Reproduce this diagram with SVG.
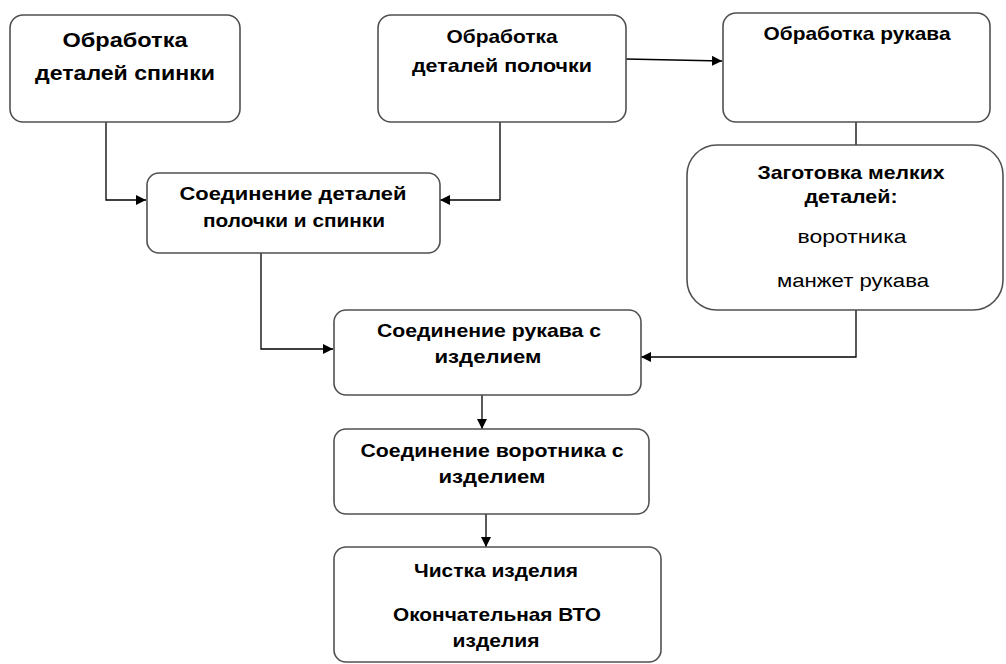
<svg xmlns="http://www.w3.org/2000/svg" width="1006" height="664" viewBox="0 0 1006 664">
  <defs>
    <marker id="arr" viewBox="0 0 10 10" refX="10" refY="5" markerWidth="10" markerHeight="10" markerUnits="userSpaceOnUse" orient="auto">
      <path d="M0,0 L10,5 L0,10 z" fill="#000"/>
    </marker>
    <style>
      .box { fill: #fff; stroke: #505050; stroke-width: 1.6; }
      .t { font-family: "Liberation Sans", Arial, sans-serif; font-weight: bold; font-size: 18.5px; fill: #000; text-anchor: middle; }
      .tb { font-size: 20px; }
      .n { font-weight: normal; }
      .c { fill: none; stroke: #000; stroke-width: 1.3; }
    </style>
  </defs>
  <rect width="1006" height="664" fill="#fff"/>

  <g id="connectors">
    <path class="c" d="M106,122 V200 H146" marker-end="url(#arr)"/>
    <path class="c" d="M500,122 V200 H440" marker-end="url(#arr)"/>
    <path class="c" d="M626,59 L722,61" marker-end="url(#arr)"/>
    <path class="c" d="M856,122 V145"/>
    <path class="c" d="M261,253 V349 H333" marker-end="url(#arr)"/>
    <path class="c" d="M856,310 V357 H641" marker-end="url(#arr)"/>
    <path class="c" d="M482,395 V429" marker-end="url(#arr)"/>
    <path class="c" d="M486,514 V547" marker-end="url(#arr)"/>
  </g>

  <g id="node-spinka">
    <rect class="box" x="10" y="15" width="230" height="107" rx="13"/>
    <text class="t tb" x="125" y="47" textLength="125" lengthAdjust="spacingAndGlyphs">Обработка</text>
    <text class="t tb" x="125" y="80" textLength="180" lengthAdjust="spacingAndGlyphs">деталей спинки</text>
  </g>

  <g id="node-polochka">
    <rect class="box" x="378" y="15" width="248" height="107" rx="13"/>
    <text class="t" x="502" y="43" textLength="111" lengthAdjust="spacingAndGlyphs">Обработка</text>
    <text class="t" x="502" y="72" textLength="180" lengthAdjust="spacingAndGlyphs">деталей полочки</text>
  </g>

  <g id="node-rukav">
    <rect class="box" x="723" y="13" width="267" height="109" rx="13"/>
    <text class="t" x="857" y="40" textLength="187" lengthAdjust="spacingAndGlyphs">Обработка рукава</text>
  </g>

  <g id="node-zagotovka">
    <rect class="box" x="687" y="145" width="316" height="165" rx="30"/>
    <text class="t" x="851" y="179" textLength="187" lengthAdjust="spacingAndGlyphs">Заготовка мелких</text>
    <text class="t" x="851" y="203" textLength="93" lengthAdjust="spacingAndGlyphs">деталей:</text>
    <text class="t n" x="852" y="243" textLength="109" lengthAdjust="spacingAndGlyphs">воротника</text>
    <text class="t n" x="853" y="287" textLength="152" lengthAdjust="spacingAndGlyphs">манжет рукава</text>
  </g>

  <g id="node-soed-detaley">
    <rect class="box" x="147" y="173" width="293" height="80" rx="12"/>
    <text class="t" x="293" y="200" textLength="227" lengthAdjust="spacingAndGlyphs">Соединение деталей</text>
    <text class="t" x="294" y="227" textLength="182" lengthAdjust="spacingAndGlyphs">полочки и спинки</text>
  </g>

  <g id="node-soed-rukava">
    <rect class="box" x="334" y="310" width="307" height="85" rx="12"/>
    <text class="t" x="489" y="337" textLength="224" lengthAdjust="spacingAndGlyphs">Соединение рукава с</text>
    <text class="t" x="488" y="363" textLength="107" lengthAdjust="spacingAndGlyphs">изделием</text>
  </g>

  <g id="node-soed-vorotnika">
    <rect class="box" x="334" y="429" width="315" height="85" rx="12"/>
    <text class="t" x="492" y="457" textLength="263" lengthAdjust="spacingAndGlyphs">Соединение воротника с</text>
    <text class="t" x="492" y="483" textLength="107" lengthAdjust="spacingAndGlyphs">изделием</text>
  </g>

  <g id="node-chistka">
    <rect class="box" x="334" y="547" width="327" height="115" rx="12"/>
    <text class="t" x="496" y="577" textLength="164" lengthAdjust="spacingAndGlyphs">Чистка изделия</text>
    <text class="t" x="497" y="621" textLength="208" lengthAdjust="spacingAndGlyphs">Окончательная ВТО</text>
    <text class="t" x="496" y="647" textLength="87" lengthAdjust="spacingAndGlyphs">изделия</text>
  </g>
</svg>
